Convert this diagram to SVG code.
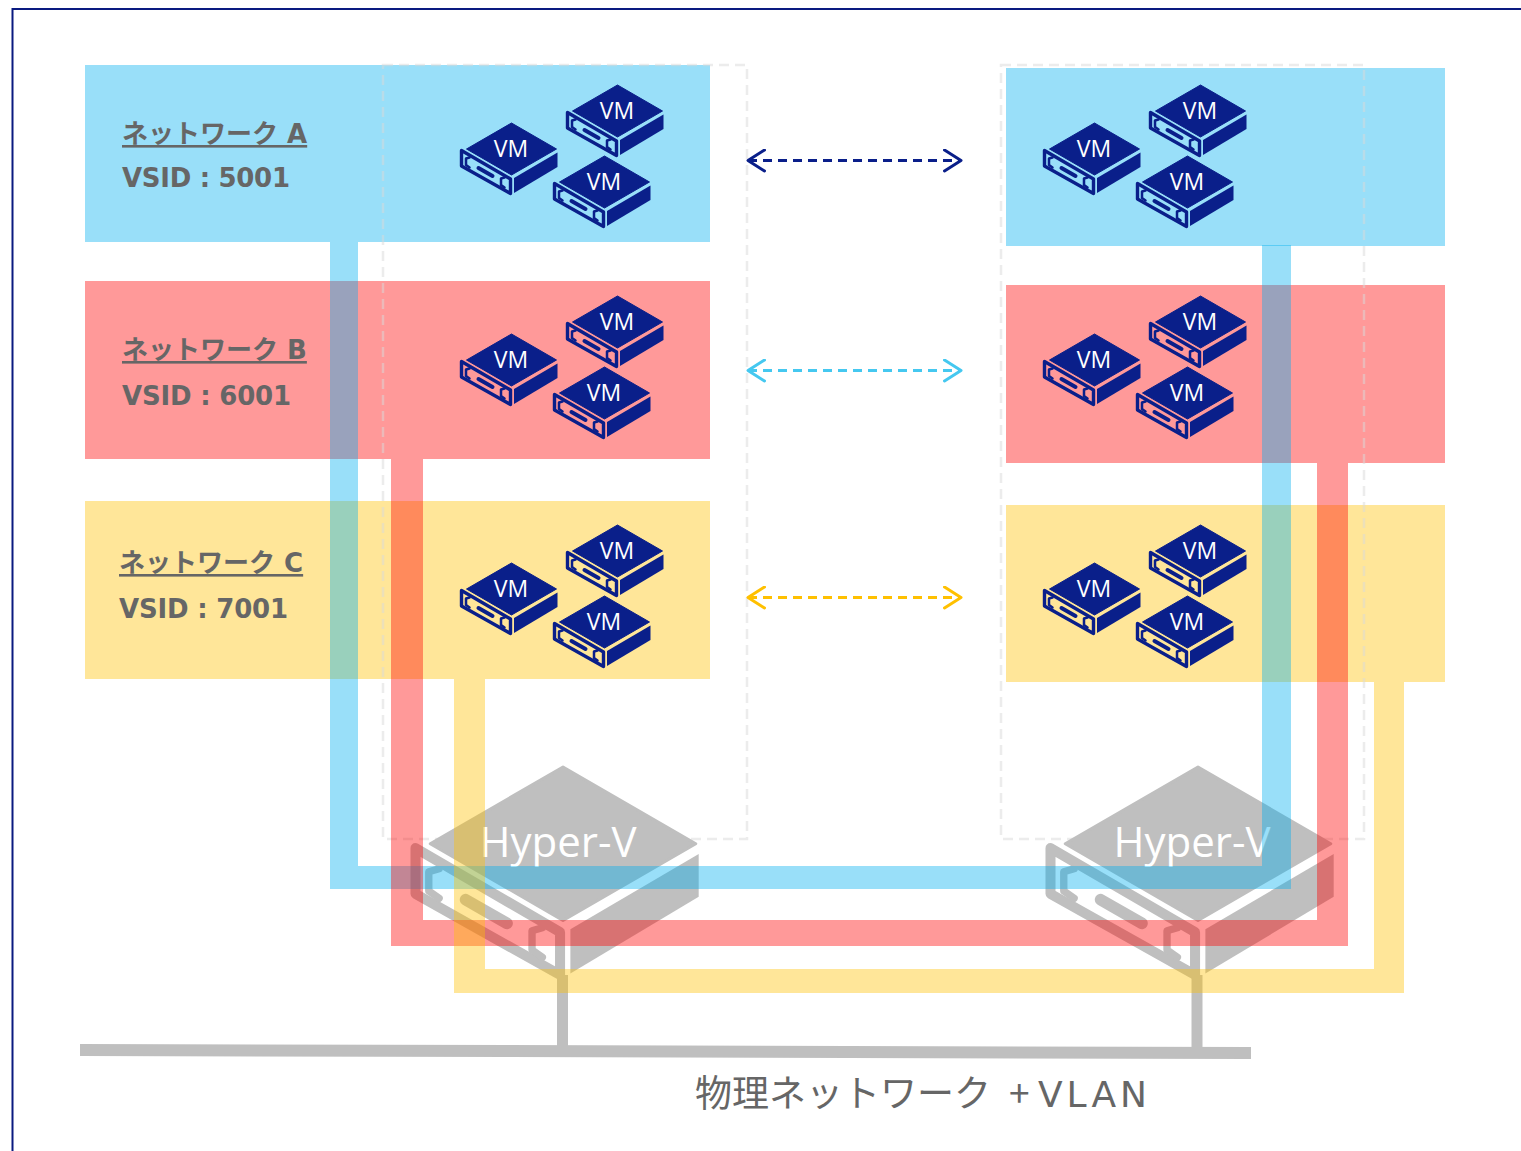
<svg xmlns="http://www.w3.org/2000/svg" width="1521" height="1151" viewBox="0 0 1521 1151">
  <style>
    .border{fill:none;stroke:#0a1a80;stroke-width:2}
    .net-a{fill:#00b0f0;fill-opacity:.4}
    .net-b{fill:#ff0000;fill-opacity:.4}
    .net-c{fill:#ffc000;fill-opacity:.4}
    .lbl{font-family:"DejaVu Sans","Noto Sans CJK JP",sans-serif;font-weight:bold;font-size:26px;fill:#666}
    .under{text-decoration:underline}
    .vmtxt{font-family:"Open Sans","Noto Sans",sans-serif;font-size:23px;fill:#fff;text-anchor:middle}
    .hvtxt{font-family:"Open Sans","Noto Sans",sans-serif;font-size:42px;fill:#fff;text-anchor:middle}
    .host{fill:none;stroke:#d9d9d9;stroke-opacity:.5;stroke-width:2.5;stroke-dasharray:10 6}
    .wire{fill:none;stroke:#bfbfbf}
    .link{fill:none;stroke-width:3;stroke-dasharray:9 6}
    .phys{font-family:"Noto Sans CJK JP",sans-serif;font-size:37px;fill:#666}
    .phys-lat{font-family:"DejaVu Sans","Noto Sans CJK JP",sans-serif;font-size:36px}
  </style>
  <defs>
    <!-- isometric rack server body, origin at top corner -->
    <g id="srv">
      <path d="M0,0 L45,26 L0,52 L-45,26 Z" fill="currentColor" stroke="currentColor" stroke-width="1" stroke-linejoin="round"/>
      <path d="M2.5,55 L46,29.5 L46,44 L2.5,70 Z" fill="currentColor"/>
      <path d="M-50,27.5 L-1,56 L-1,70.5 L-50,43 Z" fill="none" stroke="currentColor" stroke-width="3.4" stroke-linejoin="round"/>
      <path d="M-33,45 L-19,53" stroke="currentColor" stroke-width="4" stroke-linecap="round"/>
      <path d="M-42,34.5 L-45.5,35.5 V42 L-42,44.5 M-7,54.5 L-10.5,55.5 V62 L-7,64.5" fill="none" stroke="currentColor" stroke-width="2.5" stroke-linecap="round" stroke-linejoin="round"/>
    </g>
    <g id="vm" color="#0a1f8a">
      <use href="#srv"/>
      <text class="vmtxt" x="-0.5" y="34">VM</text>
    </g>
    <!-- three VMs, origin at the left VM's top corner -->
    <g id="cluster">
      <use href="#vm" x="106" y="-38"/>
      <use href="#vm" x="0" y="0"/>
      <use href="#vm" x="93" y="33"/>
    </g>
    <marker id="head-a" markerUnits="userSpaceOnUse" viewBox="0 0 20 24" refX="18" refY="12" markerWidth="20" markerHeight="24" orient="auto-start-reverse">
      <path d="M1.5,1.5 L18,12 L1.5,22.5" fill="none" stroke="#0a1f8a" stroke-width="3" stroke-linecap="round" stroke-linejoin="round"/>
    </marker>
    <marker id="head-b" markerUnits="userSpaceOnUse" viewBox="0 0 20 24" refX="18" refY="12" markerWidth="20" markerHeight="24" orient="auto-start-reverse">
      <path d="M1.5,1.5 L18,12 L1.5,22.5" fill="none" stroke="#45c8f0" stroke-width="3" stroke-linecap="round" stroke-linejoin="round"/>
    </marker>
    <marker id="head-c" markerUnits="userSpaceOnUse" viewBox="0 0 20 24" refX="18" refY="12" markerWidth="20" markerHeight="24" orient="auto-start-reverse">
      <path d="M1.5,1.5 L18,12 L1.5,22.5" fill="none" stroke="#ffc000" stroke-width="3" stroke-linecap="round" stroke-linejoin="round"/>
    </marker>
  </defs>

  <rect width="1521" height="1151" fill="#fff"/>
  <path class="border" d="M12.5,1151 V9 H1521"/>

  <!-- left host networks -->
  <g id="net-a-left">
    <rect class="net-a" x="85" y="65" width="625" height="177"/>
    <text class="lbl under" x="122" y="143">ネットワーク A</text>
    <text class="lbl" x="122" y="187" textLength="168" lengthAdjust="spacing">VSID : 5001</text>
    <use href="#cluster" x="511.5" y="123"/>
  </g>
  <g id="net-b-left">
    <rect class="net-b" x="85" y="281" width="625" height="178"/>
    <text class="lbl under" x="122" y="359">ネットワーク B</text>
    <text class="lbl" x="122" y="405" textLength="169" lengthAdjust="spacing">VSID : 6001</text>
    <use href="#cluster" x="511.5" y="334"/>
  </g>
  <g id="net-c-left">
    <rect class="net-c" x="85" y="501" width="625" height="178"/>
    <text class="lbl under" x="119" y="572">ネットワーク C</text>
    <text class="lbl" x="119" y="618" textLength="169" lengthAdjust="spacing">VSID : 7001</text>
    <use href="#cluster" x="511.5" y="563"/>
  </g>

  <!-- right host networks -->
  <g id="net-a-right">
    <rect class="net-a" x="1006" y="68" width="439" height="178"/>
    <use href="#cluster" x="1094.5" y="123"/>
  </g>
  <g id="net-b-right">
    <rect class="net-b" x="1006" y="285" width="439" height="178"/>
    <use href="#cluster" x="1094.5" y="334"/>
  </g>
  <g id="net-c-right">
    <rect class="net-c" x="1006" y="505" width="439" height="177"/>
    <use href="#cluster" x="1094.5" y="563"/>
  </g>

  <!-- physical network -->
  <g id="physical">
    <path class="wire" stroke-width="12" d="M80,1050 L1251,1053"/>
    <path class="wire" stroke-width="11" d="M562.5,975 V1051 M1197,975 V1053"/>
    <text class="phys" y="1107"><tspan x="695">物理ネットワーク</tspan><tspan x="1009">+</tspan><tspan class="phys-lat" x="1038" textLength="109" lengthAdjust="spacing">VLAN</tspan></text>
  </g>

  <!-- Hyper-V hosts -->
  <g id="host-left">
    <rect class="host" x="383" y="65" width="364" height="774"/>
    <use href="#srv" transform="translate(563,767) scale(2.95)" color="#bfbfbf"/>
    <text class="hvtxt" x="558" y="857">Hyper-V</text>
  </g>
  <g id="host-right">
    <rect class="host" x="1001" y="65" width="363" height="774"/>
    <use href="#srv" transform="translate(1198,767) scale(2.95)" color="#bfbfbf"/>
    <text class="hvtxt" x="1192" y="857">Hyper-V</text>
  </g>

  <!-- virtual network paths and peer links -->
  <g id="connectors">
    <path class="net-a" d="M330,242 H358 V866 H1262 V245 H1291 V889 H330 Z"/>
    <path class="net-b" d="M391,459 H423 V920 H1317 V463 H1348 V946 H391 Z"/>
    <path class="net-c" d="M454,679 H485 V969 H1374 V682 H1404 V993 H454 Z"/>
    <path class="link" stroke="#0a1f8a" d="M748,160.5 H961" marker-start="url(#head-a)" marker-end="url(#head-a)"/>
    <path class="link" stroke="#45c8f0" d="M748,370.5 H961" marker-start="url(#head-b)" marker-end="url(#head-b)"/>
    <path class="link" stroke="#ffc000" d="M748,597.5 H961" marker-start="url(#head-c)" marker-end="url(#head-c)"/>
  </g>
</svg>
